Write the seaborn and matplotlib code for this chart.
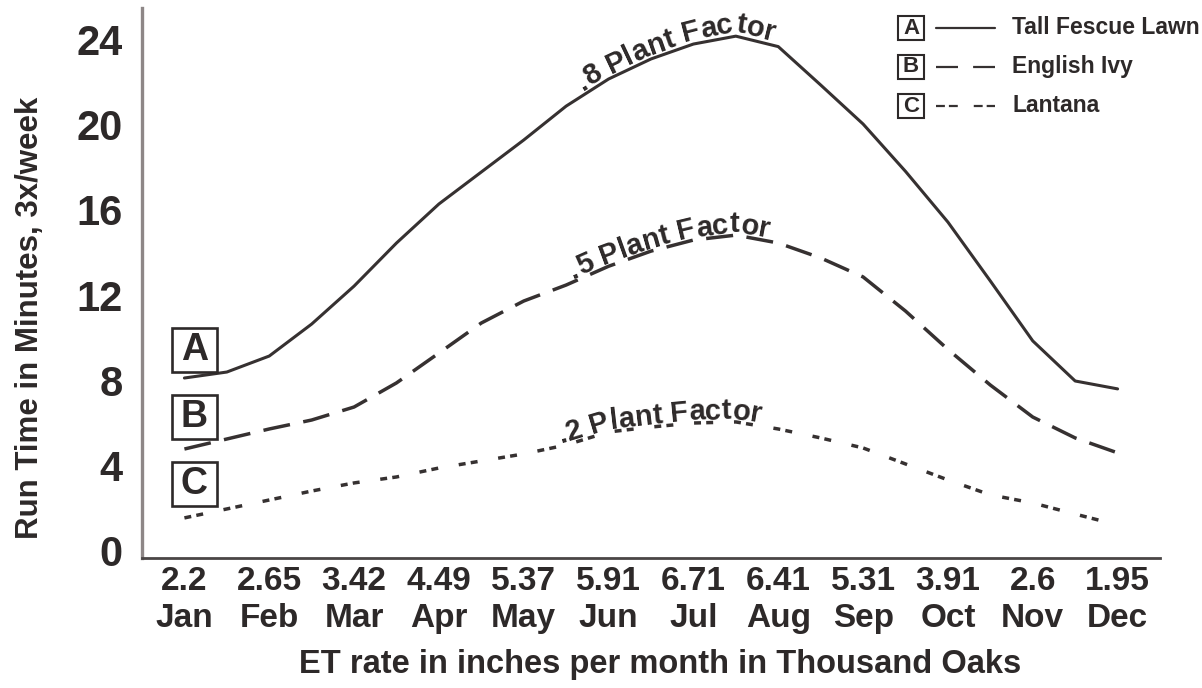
import numpy as np
import pandas as pd
import matplotlib
matplotlib.use("Agg")
import matplotlib.pyplot as plt
import matplotlib.transforms as mtransforms
from matplotlib.patches import Rectangle
from matplotlib.lines import Line2D
from matplotlib.font_manager import FontProperties
import seaborn as sns

months = ['Jan', 'Feb', 'Mar', 'Apr', 'May', 'Jun', 'Jul', 'Aug', 'Sep', 'Oct', 'Nov', 'Dec']
et_rates = ['2.2', '2.65', '3.42', '4.49', '5.37', '5.91', '6.71', '6.41', '5.31', '3.91', '2.6', '1.95']

# values every half month (0 = middle of January)
month_pos = [0, 0.5, 1, 1.5, 2, 2.5, 3, 3.5, 4, 4.5, 5, 5.5,
             6, 6.5, 7, 7.5, 8, 8.5, 9, 9.5, 10, 10.5, 11]
tall_fescue = [8.11, 8.39, 9.14, 10.64, 12.42, 14.44, 16.27, 17.77, 19.27, 20.86, 22.13, 23.07,
               23.77, 24.14, 23.65, 21.85, 20.02, 17.8, 15.42, 12.66, 9.85, 7.97, 7.6]
english_ivy = [4.78, 5.25, 5.72, 6.14, 6.75, 7.88, 9.28, 10.69, 11.72, 12.47, 13.35, 14.06,
               14.58, 14.81, 14.44, 13.74, 12.85, 11.25, 9.45, 7.78, 6.28, 5.3, 4.6]
lantana = [1.55, 1.97, 2.39, 2.81, 3.19, 3.47, 3.89, 4.22, 4.55, 4.97, 5.58, 5.81,
           6.0, 6.05, 5.72, 5.3, 4.83, 4.08, 3.33, 2.63, 2.25, 1.73, 1.22]

plant_keys = ['A', 'B', 'C']
plant_names = ['Tall Fescue Lawn', 'English Ivy', 'Lantana']
factor_labels = ['.8 Plant Factor', '.5 Plant Factor', '.2 Plant Factor']
y_ticks = [0, 4, 8, 12, 16, 20, 24]

INK = '#2d2929'
LINE = '#363131'
FONT = ['Liberation Sans', 'DejaVu Sans']

sns.set_theme(style='white')
plt.rcParams['font.family'] = FONT
plt.rcParams['font.weight'] = 'bold'
plt.rcParams['text.color'] = INK

W, H = 1202, 688
fig = plt.figure(figsize=(W / 100, H / 100), dpi=100)
fig.patch.set_facecolor('white')


def fx(x):
    return x / W


def fy(y):
    return 1 - y / H


ax = fig.add_axes([fx(142), fy(558), (1160 - 142) / W, (558 - 8) / H])

df = pd.DataFrame({'month': month_pos, 'A': tall_fescue, 'B': english_ivy, 'C': lantana})
styles = {'A': '-', 'B': (0, (7.8, 3.9)), 'C': (0, (2.0, 1.5, 2.0, 6.0))}
widths = {'A': 2.2, 'B': 2.5, 'C': 2.5}
for key in plant_keys:
    sns.lineplot(data=df, x='month', y=key, ax=ax, color=LINE, linewidth=widths[key],
                 linestyle=styles[key], estimator=None, sort=False, legend=False)

ax.set_xlim(-0.5, 11.5)
ax.set_ylim(-0.33, 25.46)
ax.set_facecolor('white')
ax.grid(False)
for side in ['top', 'right']:
    ax.spines[side].set_visible(False)
ax.spines['left'].set_color('#8e8787')
ax.spines['left'].set_linewidth(2.4)
ax.spines['bottom'].set_color('#4a4545')
ax.spines['bottom'].set_linewidth(2.0)

ax.set_yticks(y_ticks)
ax.set_yticklabels([str(t) for t in y_ticks], fontsize=30, fontweight='bold', color=INK)
ax.tick_params(axis='y', length=0, pad=14)

ax.set_xticks([i + 0.5 for i in range(len(months))])
ax.set_xticklabels([])
ax.tick_params(axis='x', which='major', direction='in', length=7, width=1.4, color='#555050')
ax.set_xticks(range(len(months)), labels=[f'{e}\n{m}' for e, m in zip(et_rates, months)], minor=True)
ax.tick_params(axis='x', which='minor', length=0, pad=6, labelsize=24, labelcolor=INK)
for lbl in ax.get_xticklabels(minor=True):
    lbl.set_fontweight('bold')
    lbl.set_linespacing(1.22)

ax.set_xlabel('')
ax.set_ylabel('')
fig.text(fx(660), fy(665), 'ET rate in inches per month in Thousand Oaks', ha='center', va='center',
         fontsize=23.5, fontweight='bold', color=INK)
fig.text(fx(30), fy(318), 'Run Time in Minutes, 3x/week', ha='center', va='center', rotation=90,
         fontsize=22.5, fontweight='bold', color=INK)


def text_on_curve(xs, ys, label, x_start, lift, size):
    renderer = fig.canvas.get_renderer()
    fp = FontProperties(family=FONT, weight='bold', size=size)
    pts = ax.transData.transform(np.column_stack([xs, ys]))
    arc = np.concatenate([[0], np.cumsum(np.hypot(*np.diff(pts, axis=0).T))])
    s0 = np.interp(ax.transData.transform((x_start, 0))[0], pts[:, 0], arc)

    def width(s):
        return renderer.get_text_width_height_descent(s, fp, ismath=False)[0]

    for i, ch in enumerate(label):
        if ch == ' ':
            continue
        mid = s0 + width(label[:i + 1]) - width(ch) / 2
        px = np.interp(mid, arc, pts[:, 0])
        py = np.interp(mid, arc, pts[:, 1])
        x0, y0 = np.interp(mid - 7, arc, pts[:, 0]), np.interp(mid - 7, arc, pts[:, 1])
        x1, y1 = np.interp(mid + 7, arc, pts[:, 0]), np.interp(mid + 7, arc, pts[:, 1])
        ang = np.arctan2(y1 - y0, x1 - x0)
        fig.text(px - np.sin(ang) * lift, py + np.cos(ang) * lift, ch, fontproperties=fp,
                 rotation=np.degrees(ang), rotation_mode='anchor', ha='center', va='baseline',
                 transform=mtransforms.IdentityTransform(), color=INK)


text_on_curve(month_pos, tall_fescue, factor_labels[0], 4.72, 4, 21)
text_on_curve(month_pos, english_ivy, factor_labels[1], 4.6, 3, 21)
text_on_curve(month_pos, lantana, factor_labels[2], 4.45, 3, 21)

# boxed letters at the start of each curve
left_boxes = [(172, 328), (172, 395), (172, 462)]
for key, (bx, by) in zip(plant_keys, left_boxes):
    fig.add_artist(Rectangle((fx(bx), fy(by + 44)), 45 / W, 44 / H, transform=fig.transFigure,
                             facecolor='white', edgecolor=INK, linewidth=1.9, zorder=5))
    fig.text(fx(bx + 22.5), fy(by + 22), key, ha='center', va='center', fontsize=27,
             fontweight='bold', color=INK, zorder=6)

# legend in the top right corner
legend_rows = [28, 67, 106]
legend_styles = {'A': '-', 'B': (0, (9.9, 6.8)), 'C': (0, (4.0, 1.8, 4.0, 7.2))}
for key, name, ry in zip(plant_keys, plant_names, legend_rows):
    fig.add_artist(Rectangle((fx(898), fy(ry + 12)), 26 / W, 24 / H, transform=fig.transFigure,
                             facecolor='white', edgecolor=INK, linewidth=1.5))
    fig.text(fx(911), fy(ry), key, ha='center', va='center', fontsize=16, fontweight='bold',
             color=INK)
    fig.add_artist(Line2D([fx(936), fx(995)], [fy(ry), fy(ry)], transform=fig.transFigure,
                          color=LINE, linewidth=1.6, linestyle=legend_styles[key]))
    fig.text(fx(1012), fy(ry), name, ha='left', va='center', fontsize=16.5, fontweight='bold',
             color=INK)

fig.savefig('out.png', dpi=100, facecolor='white')
